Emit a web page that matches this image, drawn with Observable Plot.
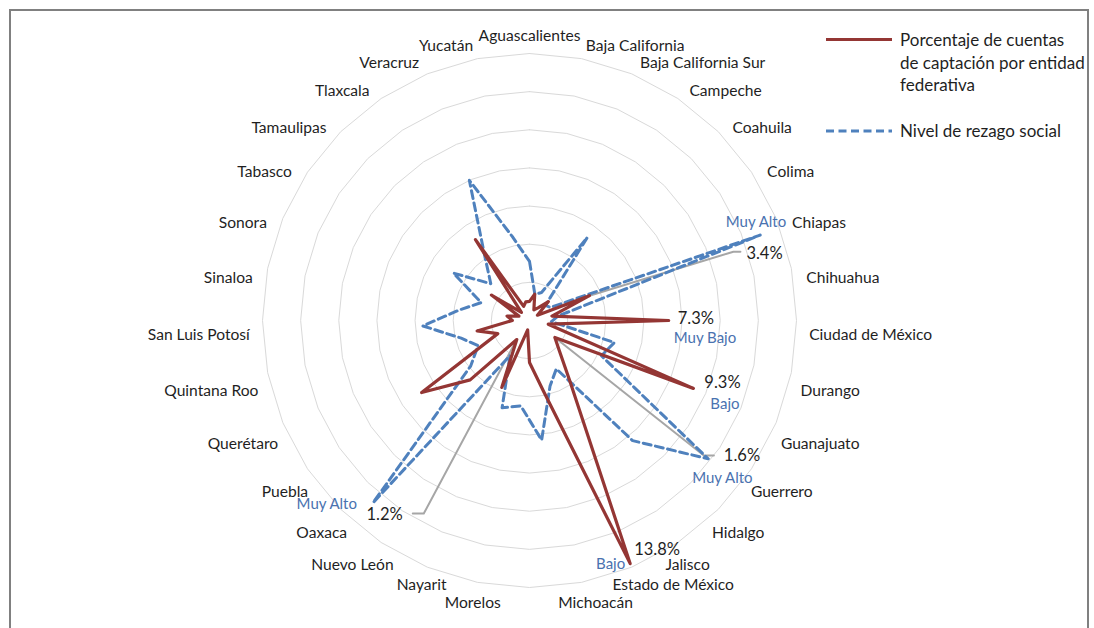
<!DOCTYPE html>
<html><head><meta charset="utf-8">
<script src="https://cdn.jsdelivr.net/npm/d3@7"></script>
<script src="https://cdn.jsdelivr.net/npm/@observablehq/plot@0.6"></script>
<style>
body{margin:0;background:#fff;}
#wrap{position:relative;width:1094px;height:628px;overflow:hidden;font-family:Lato,"Liberation Sans",sans-serif;color:#1f1f1f;}
#frame{position:absolute;left:9px;top:9px;width:1080px;height:700px;border:2px solid #808080;box-sizing:border-box;}
#chart{position:absolute;left:0;top:0;}
.lg{position:absolute;font-size:17px;line-height:22.5px;white-space:nowrap;}
</style></head><body>
<div id="wrap"><div id="frame"></div><div id="chart"></div>
<div class="lg" style="left:826px;top:38px;width:66px;height:3px;background:#943634;"></div>
<div class="lg" style="left:900px;top:29px;">Porcentaje de cuentas<br>de captación por entidad<br>federativa</div>
<svg class="lg" style="left:826px;top:129px;" width="66" height="4"><line x1="0" y1="2" x2="66" y2="2" stroke="#4f81bd" stroke-width="3" stroke-dasharray="8,4.5"/></svg>
<div class="lg" style="left:900px;top:120px;">Nivel de rezago social</div>
</div>
<script>
// 31 category labels (axis of the rezago series)
const estados = ["Aguascalientes","Baja California","Baja California Sur","Campeche","Coahuila","Colima","Chiapas","Chihuahua","Ciudad de México","Durango","Guanajuato","Guerrero","Hidalgo","Jalisco","Estado de México","Michoacán","Morelos","Nayarit","Nuevo León","Oaxaca","Puebla","Querétaro","Quintana Roo","San Luis Potosí","Sinaloa","Sonora","Tabasco","Tamaulipas","Tlaxcala","Veracruz","Yucatán"];
// the percentage series is plotted over 32 entities
const estadosCuentas = [...estados, "Zacatecas"];
const cuentas = [1.0,1.4,0.6,0.8,1.4,0.5,3.4,1.2,7.3,1.0,9.3,1.6,2.2,3.8,13.8,3.8,2.2,0.5,3.8,1.2,4.4,6.8,1.8,2.8,0.9,1.2,0.6,2.4,0.6,5.1,0.8,1.0];
// rezago social level (radial units of the same axis)
const rezago = [3.1,1.4,1.6,5.3,1.15,1.3,12.9,1.5,1.15,4.6,4.2,11.85,8.3,2.9,3.6,6.3,4.5,4.8,2.1,12.6,3.9,3.0,3.7,5.6,3.7,2.7,4.7,2.8,4.1,8.0,4.5];
const anillos = [2,4,6,8,10,12,14];
// data labels
const etiquetasCuentas = [
  {estado:"Chiapas", texto:"3.4%"},
  {estado:"Ciudad de México", texto:"7.3%"},
  {estado:"Guanajuato", texto:"9.3%"},
  {estado:"Guerrero", texto:"1.6%"},
  {estado:"Estado de México", texto:"13.8%"},
  {estado:"Oaxaca", texto:"1.2%"}
];
const etiquetasNivel = [
  {estado:"Chiapas", texto:"Muy Alto"},
  {estado:"Ciudad de México", texto:"Muy Bajo"},
  {estado:"Guanajuato", texto:"Bajo"},
  {estado:"Guerrero", texto:"Muy Alto"},
  {estado:"Estado de México", texto:"Bajo"},
  {estado:"Oaxaca", texto:"Muy Alto"}
];

const TAU = Math.PI * 2;
const RMAX = 14;
const CX = 529, CY = 320, RPX = 267;         // layout of the radar
const k = RPX / RMAX;                          // px per unit
const polar = (vals, names) => vals.map((v, i) => {
  const a = i * TAU / vals.length;
  return {estado: names[i], v, a, x: v * Math.sin(a), y: v * Math.cos(a)};
});
const pC = polar(cuentas, estadosCuentas);
const pR = polar(rezago, estados);
const close = arr => [...arr, arr[0]];
const grid = anillos.flatMap(r => d3.range(33).map(i => ({r, x: r * Math.sin(i * TAU / 32), y: r * Math.cos(i * TAU / 32)})));

const LR = 280 / k;
const labs = estados.map((e, i) => {
  const a = i * TAU / estados.length, s = Math.sin(a), c = Math.cos(a);
  // bottom-most labels spread a little vertically, as in the source
  const r = c < -0.97 ? LR + 0.22 : (c < -0.9 ? LR - 0.16 : LR);
  return {e, x: r * s, y: r * c, side: s > 0.02 ? "start" : s < -0.02 ? "end" : "middle"};
});
const font = "Lato, 'Liberation Sans', sans-serif";
const txt = (side, extra = {}) => Plot.text(labs.filter(d => d.side === side), {x: "x", y: "y", text: "e", textAnchor: side, fontSize: 15.6, fill: "#1f1f1f", ...extra});

const find = (pts, e) => pts.find(d => d.estado === e);
// annotation layout (pixel offsets, screen y downwards)
const annC = {
  "Chiapas": {leader: [[144, -44], [151, -44]], dx: 157, dy: -42, anchor: "start"},
  "Ciudad de México": {dx: 9, dy: -2, anchor: "start"},
  "Guanajuato": {dx: 11, dy: -6, anchor: "start"},
  "Guerrero": {leader: [[149, 118], [159, 118]], dx: 169, dy: 118, anchor: "start"},
  "Estado de México": {dx: 4, dy: -14, anchor: "start"},
  "Oaxaca": {leader: [[-93, 174], [-104, 174]], dx: -114, dy: 175, anchor: "end"}
};
const annN = {
  "Chiapas": {ref: "R", dx: 26, dy: -13, anchor: "end"},
  "Ciudad de México": {ref: "C", dx: 5, dy: 18, anchor: "start"},
  "Guanajuato": {ref: "C", dx: 17, dy: 16, anchor: "start"},
  "Guerrero": {ref: "R", dx: -16, dy: 19, anchor: "start"},
  "Estado de México": {ref: "C", dx: -5, dy: 1, anchor: "end"},
  "Oaxaca": {ref: "R", dx: -16, dy: 1, anchor: "end"}
};
const marks = [
  Plot.line(grid, {x: "x", y: "y", z: "r", stroke: "#d9d9d9", strokeWidth: 1}),
  txt("start"), txt("end"), txt("middle", {lineAnchor: "bottom"})
];
for (const et of etiquetasCuentas) {
  const p = find(pC, et.estado), o = annC[et.estado];
  if (o.leader) {
    const pts = [{x: p.x, y: p.y}, ...o.leader.map(([dx, dy]) => ({x: p.x + dx / k, y: p.y - dy / k}))];
    marks.push(Plot.line(pts, {x: "x", y: "y", stroke: "#a6a6a6", strokeWidth: 2}));
  }
}
marks.push(
  Plot.line(close(pR), {x: "x", y: "y", stroke: "#4f81bd", strokeWidth: 3, strokeDasharray: "8,4.5", strokeLinejoin: "round"}),
  Plot.line(close(pC), {x: "x", y: "y", stroke: "#943634", strokeWidth: 3.2, strokeLinejoin: "round"})
);
for (const et of etiquetasCuentas) {
  const p = find(pC, et.estado), o = annC[et.estado];
  marks.push(Plot.text([et], {x: () => p.x, y: () => p.y, text: "texto", dx: o.dx, dy: o.dy, textAnchor: o.anchor, fontSize: 16.5, fill: "#1f1f1f"}));
}
for (const et of etiquetasNivel) {
  const o = annN[et.estado], p = find(o.ref === "R" ? pR : pC, et.estado);
  marks.push(Plot.text([et], {x: () => p.x, y: () => p.y, text: "texto", dx: o.dx, dy: o.dy, textAnchor: o.anchor, fontSize: 15, fill: "#4a72b0"}));
}
const chart = Plot.plot({
  width: 1094, height: 628, margin: 0,
  x: {domain: [-RMAX, RMAX], range: [CX - RPX, CX + RPX], axis: null},
  y: {domain: [-RMAX, RMAX], range: [CY + RPX, CY - RPX], axis: null},
  style: {background: "transparent", fontFamily: font},
  marks
});
document.getElementById("chart").appendChild(chart);
</script>
</body></html>
